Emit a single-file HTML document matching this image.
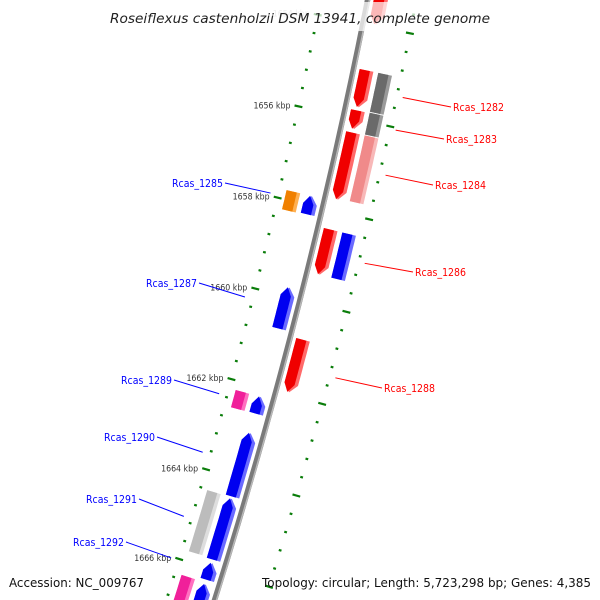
<!DOCTYPE html>
<html><head><meta charset="utf-8"><style>
html,body{margin:0;padding:0;background:#fff;width:600px;height:600px;overflow:hidden;}
svg{display:block;}
</style></head><body>
<svg id="map" xmlns="http://www.w3.org/2000/svg" width="600" height="600" viewBox="0 0 600 600" overflow="hidden">
<rect x="0" y="0" width="600" height="600" fill="#fff"/>
<g id="backbone-g"></g>
<g id="ticks-g"></g>
<g id="genes-g"></g>
<g id="labels-g"></g>
<rect x="106" y="2" width="388" height="29" fill="#fff" opacity="0.72"/>
<text x="300" y="23" text-anchor="middle" font-family="DejaVu Sans, sans-serif" font-style="italic" font-size="13" fill="#222" textLength="380" lengthAdjust="spacingAndGlyphs">Roseiflexus castenholzii DSM 13941, complete genome</text>
<text x="9" y="587" font-family="DejaVu Sans, sans-serif" font-size="12" fill="#111" textLength="135" lengthAdjust="spacingAndGlyphs">Accession: NC_009767</text>
<text x="591" y="587" text-anchor="end" font-family="DejaVu Sans, sans-serif" font-size="12" fill="#111" textLength="329" lengthAdjust="spacingAndGlyphs">Topology: circular; Length: 5,723,298 bp; Genes: 4,385</text>
</svg>
<script>
// ---- data ----
const geneNames  = ["top-cds","Rcas_1282","Rcas_1283","Rcas_1284","Rcas_1282-cog","Rcas_1283-cog","Rcas_1284-cog","Rcas_1286","Rcas_1286-cog","Rcas_1288","Rcas_1285","Rcas_1285-cog","Rcas_1287","Rcas_1289","Rcas_1289-cog","Rcas_1290","Rcas_1291","Rcas_1291-cog","Rcas_1292","Rcas_1293","Rcas_1293-cog"];
const geneStarts = [1653.0,1654.95,1655.82,1656.30,1654.95,1655.81,1656.30,1658.40,1658.40,1660.80,1657.80,1657.80,1659.80,1662.20,1662.20,1663.00,1664.45,1664.42,1665.88,1666.35,1666.31];
const geneEnds   = [1653.96,1655.75,1656.22,1657.75,1655.79,1656.28,1657.72,1659.38,1659.38,1661.95,1658.20,1658.22,1660.70,1662.57,1662.58,1664.40,1665.80,1665.78,1666.25,1667.60,1667.60];
const geneLanes  = ["fi","fi","fi","fi","fo","fo","fo","fi","fo","fi","ri","ro","ri","ri","ro","ri","ri","ro","ri","ri","ro"];
const geneColors = ["red","red","red","red","gray","gray","pink","red","blue","red","blue","orange","blue","blue","magenta","blue","blue","lgray","blue","blue","magenta"];
const tickStartKbp = 1653.6;
const tickEndKbp = 1667.6;
const tickLabelKbp = [1654,1656,1658,1660,1662,1664,1666];
const tickLabelText = ["1654 kbp","1656 kbp","1658 kbp","1660 kbp","1662 kbp","1664 kbp","1666 kbp"];
const labelNames = ["Rcas_1282","Rcas_1283","Rcas_1284","Rcas_1286","Rcas_1288","Rcas_1285","Rcas_1287","Rcas_1289","Rcas_1290","Rcas_1291","Rcas_1292"];
const labelKbp   = [1655.35,1656.05,1657.02,1658.92,1661.4,1657.94,1660.23,1662.37,1663.67,1665.1,1666.03];
const labelSide  = ["r","r","r","r","r","l","l","l","l","l","l"];
const labelTextPos = [[453,111],[446,143],[435,189],[415,276],[384,392],[223,187],[197,287],[172,384],[155,441],[137,503],[124,546]];

// ---- geometry (polar axis) ----
const CX=-5161, CY=-1090, R0=5635;
function ang(k){return (14.28+(k-1660)*0.48)*Math.PI/180;}
function P(off,k){const a=ang(k),r=R0+off;return [CX+r*Math.cos(a),CY+r*Math.sin(a)];}
const NS="http://www.w3.org/2000/svg";
function mk(tag,attrs,parent){const e=document.createElementNS(NS,tag);for(const k in attrs)e.setAttribute(k,attrs[k]);parent.appendChild(e);return e;}
function pstr(pts){return pts.map(p=>p[0].toFixed(1)+","+p[1].toFixed(1)).join(" ");}

// backbone
const bb=document.getElementById('backbone-g');
function arcPath(off,k1,k2){let d="";for(let i=0;i<=40;i++){const k=k1+(k2-k1)*i/40;const p=P(off,k);d+=(i?"L":"M")+p[0].toFixed(1)+" "+p[1].toFixed(1);}return d;}
let bbp=mk('path',{d:arcPath(0,1653,1667.9),stroke:"#7a7a7a","stroke-width":5.5,fill:"none"},bb);


let bbh=mk('path',{d:arcPath(1.8,1653,1667.9),stroke:"#b8b8b8","stroke-width":1.5,fill:"none"},bb);



// ticks
const tg=document.getElementById('ticks-g');
const nT=Math.round((tickEndKbp-tickStartKbp)/0.4);
for(let i=0;i<=nT;i++){
  const k=tickStartKbp+i*0.4;
  const major=Math.abs(k-Math.round(k))<0.05 && Math.round(k)%2===0;
  [[-46,"l"],[48,"r"]].forEach(([o,s])=>{
    const len=major?4:1.4;
    const a=P(o-len,k),b=P(o+len,k);
    const ln=mk('line',{x1:a[0],y1:a[1],x2:b[0],y2:b[1],stroke:"#0a7d0a","stroke-width":2.2},tg);
    
    
  });
}
tickLabelKbp.forEach((k,i)=>{
  const p=P(-46,k);
  const t=mk('text',{x:p[0]-8,y:p[1]+2,"text-anchor":"end","font-family":"DejaVu Sans, sans-serif","font-size":"8.5",fill:k===1654?"#bbb":"#333",textLength:37,lengthAdjust:"spacingAndGlyphs"},tg);
  t.textContent=tickLabelText[i];
  
  
});

// genes
const laneOff={fi:[6,20],fo:[25,39],ri:[-20,-6],ro:[-39,-25]};
const pal={red:["#f00000","#ff6a6a"],blue:["#0000f0","#6a6aff"],gray:["#6a6a6a","#9a9a9a"],pink:["#f08a8a","#f8b8b8"],orange:["#f08000","#ffb050"],magenta:["#f0209a","#ff70c0"],lgray:["#bcbcbc","#dedede"]};
const gg=document.getElementById('genes-g');
function shape(o1,o2,k1,k2,lane){
  const fwd=lane==="fi", rev=lane==="ri";
  const head=Math.min(0.18,(k2-k1)*0.5);
  const oc=(o1+o2)/2;
  const n=8;let pts=[];
  if(fwd){
    for(let i=0;i<=n;i++)pts.push(P(o1,k1+(k2-head-k1)*i/n));
    pts.push(P(oc,k2));
    for(let i=n;i>=0;i--)pts.push(P(o2,k1+(k2-head-k1)*i/n));
  }else if(rev){
    pts.push(P(oc,k1));
    for(let i=0;i<=n;i++)pts.push(P(o2,k1+head+(k2-k1-head)*i/n));
    for(let i=n;i>=0;i--)pts.push(P(o1,k1+head+(k2-k1-head)*i/n));
  }else{
    for(let i=0;i<=n;i++)pts.push(P(o1,k1+(k2-k1)*i/n));
    for(let i=n;i>=0;i--)pts.push(P(o2,k1+(k2-k1)*i/n));
  }
  return pts;
}
geneNames.forEach((nm,i)=>{
  const lane=geneLanes[i],[o1,o2]=laneOff[lane],c=pal[geneColors[i]];
  const g=mk('g',{},gg);
  
  
  const a=mk('polygon',{points:pstr(shape(o1,o2,geneStarts[i],geneEnds[i],lane)),fill:c[1]},g);
  
  
  const b=mk('polygon',{points:pstr(shape(o1,o1+(o2-o1)*0.75,geneStarts[i],geneEnds[i],lane)),fill:c[0]},g);
  
  
});

// labels
const lg=document.getElementById('labels-g');
labelNames.forEach((nm,i)=>{
  const right=labelSide[i]==="r";
  const col=right?"#ff0000":"#0000ff";
  const p=P(right?54:-54,labelKbp[i]);
  const tp=labelTextPos[i];
  const lx=right?tp[0]-2:tp[0]+2, ly=tp[1]-4;
  const ln=mk('line',{x1:p[0],y1:p[1],x2:lx,y2:ly,stroke:col,"stroke-width":1},lg);
  
  
  const t=mk('text',{x:tp[0],y:tp[1],"text-anchor":right?"start":"end","font-family":"DejaVu Sans, sans-serif","font-size":"10.5",fill:col,textLength:51,lengthAdjust:"spacingAndGlyphs"},lg);
  t.textContent=nm;
  
  
});
</script>
</body></html>
